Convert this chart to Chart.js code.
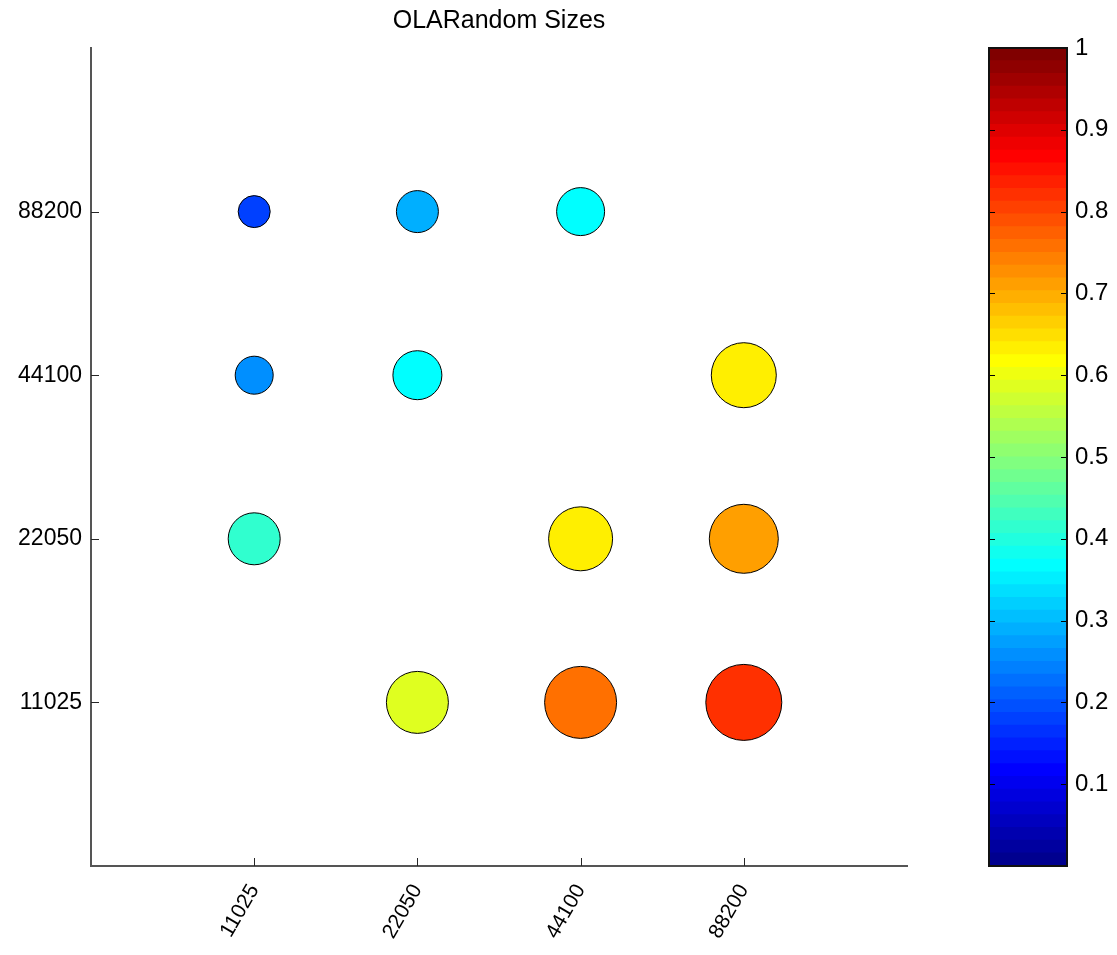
<!DOCTYPE html>
<html>
<head>
<meta charset="utf-8">
<script src="https://cdn.jsdelivr.net/npm/chart.js@4.4.1/dist/chart.umd.min.js"></script>
<style>
  html, body { margin: 0; padding: 0; background: #ffffff; }
  #wrap { position: relative; width: 1117px; height: 955px; overflow: hidden; }
  #main { position: absolute; left: 0; top: 0; }
  #cbar { position: absolute; left: 960px; top: 0; }
</style>
</head>
<body>
<div id="wrap">
  <canvas id="main" width="960" height="955"></canvas>
  <canvas id="cbar" width="157" height="955"></canvas>
</div>
<script>
// Sample-rate categories used on both axes
const sampleRates = ['11025', '22050', '44100', '88200'];

// Each bubble: column (x) and row (y) as 1-based positions in sampleRates
const pointX = [1, 2, 3, 1, 2, 4, 1, 3, 4, 2, 3, 4];
const pointY = [4, 4, 4, 3, 3, 3, 2, 2, 2, 1, 1, 1];
// Colour value (0..1, mapped through the colour bar)
const colourValues = [0.18, 0.29, 0.37, 0.25, 0.37, 0.63, 0.41, 0.63, 0.71, 0.585, 0.755, 0.82];
// Bubble radius in pixels
const bubbleRadii = [16, 21, 24, 19, 24.5, 32.5, 26, 32, 34.5, 31, 36, 38];

// Colour bar tick values
const colourTicks = [0.1, 0.2, 0.3, 0.4, 0.5, 0.6, 0.7, 0.8, 0.9, 1];

const FONT = "'Liberation Sans', Arial, Helvetica, sans-serif";
Chart.defaults.font.family = FONT;
Chart.defaults.color = '#000000';

// 64-level "jet" colour map
function jetMap(n) {
  const m = Math.ceil(n / 4);
  const u = [];
  for (let i = 1; i <= m; i++) u.push(i / m);
  for (let i = 0; i < m - 1; i++) u.push(1);
  for (let i = m; i >= 1; i--) u.push(i / m);
  const g0 = Math.ceil(m / 2) - (n % 4 === 1 ? 1 : 0);
  const rows = Array.from({ length: n }, () => [0, 0, 0]);
  u.forEach((val, i) => {
    const g = g0 + i + 1;
    const r = g + m, b = g - m;
    if (r >= 1 && r <= n) rows[r - 1][0] = val;
    if (g >= 1 && g <= n) rows[g - 1][1] = val;
    if (b >= 1 && b <= n) rows[b - 1][2] = val;
  });
  return rows.map(c => `rgb(${Math.round(c[0] * 255)},${Math.round(c[1] * 255)},${Math.round(c[2] * 255)})`);
}
const LEVELS = 64;
const jet = jetMap(LEVELS);
const colourFor = v => jet[Math.min(LEVELS - 1, Math.max(0, Math.floor(v * LEVELS)))];

// Short tick marks pointing into the plot area
const inwardTicks = {
  id: 'inwardTicks',
  afterDatasetsDraw(chart) {
    const { ctx, chartArea: a, scales: { x, y } } = chart;
    ctx.save();
    ctx.strokeStyle = '#262626';
    ctx.lineWidth = 1;
    x.ticks.forEach(t => {
      const px = Math.round(x.getPixelForValue(t.value)) + 0.5;
      ctx.beginPath(); ctx.moveTo(px, a.bottom); ctx.lineTo(px, a.bottom - 8); ctx.stroke();
    });
    y.ticks.forEach(t => {
      const py = Math.round(y.getPixelForValue(t.value)) + 0.5;
      ctx.beginPath(); ctx.moveTo(a.left, py); ctx.lineTo(a.left + 8, py); ctx.stroke();
    });
    ctx.restore();
  }
};

const categoryTicks = s => { s.ticks = sampleRates.map((_, i) => ({ value: i + 1 })); };
const categoryLabel = v => sampleRates[v - 1] ?? '';

new Chart(document.getElementById('main'), {
  type: 'bubble',
  data: {
    datasets: [{
      data: pointX.map((xv, i) => ({ x: xv, y: pointY[i], r: bubbleRadii[i] })),
      backgroundColor: colourValues.map(colourFor),
      borderColor: '#000000',
      borderWidth: 1
    }]
  },
  options: {
    responsive: false,
    animation: false,
    layout: { padding: { left: 0, right: 53, top: 0, bottom: 0 } },
    plugins: {
      legend: { display: false },
      tooltip: { enabled: false },
      title: {
        display: true,
        fullSize: false,
        text: 'OLARandom Sizes',
        color: '#000000',
        font: { size: 25, weight: 'normal', family: FONT },
        padding: { top: 6, bottom: 12 }
      }
    },
    scales: {
      x: {
        type: 'linear',
        min: 0, max: 5,
        afterBuildTicks: categoryTicks,
        afterFit: s => { s.height = 89; },
        grid: { display: true, drawOnChartArea: false, drawTicks: false },
        border: { display: true, color: '#555555', width: 2 },
        ticks: {
          callback: categoryLabel,
          minRotation: 60, maxRotation: 60,
          padding: 14,
          color: '#000000',
          font: { size: 21, family: FONT }
        }
      },
      y: {
        type: 'linear',
        min: 0, max: 5,
        afterBuildTicks: categoryTicks,
        afterFit: s => { s.width = 91; },
        grid: { display: true, drawOnChartArea: false, drawTicks: false },
        border: { display: true, color: '#555555', width: 2 },
        ticks: {
          callback: categoryLabel,
          padding: 9,
          color: '#000000',
          font: { size: 23, family: FONT }
        }
      }
    }
  },
  plugins: [inwardTicks]
});

// Colour bar: outline box and tick marks on both edges
const colourBarFrame = {
  id: 'colourBarFrame',
  afterDatasetsDraw(chart) {
    const { ctx, chartArea: a, scales: { y } } = chart;
    ctx.save();
    ctx.strokeStyle = '#000000';
    ctx.lineWidth = 1;
    y.ticks.forEach(t => {
      if (t.value <= 0 || t.value >= 1) return;
      const py = Math.round(y.getPixelForValue(t.value)) + 0.5;
      ctx.beginPath(); ctx.moveTo(a.left, py); ctx.lineTo(a.left + 6, py); ctx.stroke();
      ctx.beginPath(); ctx.moveTo(a.right, py); ctx.lineTo(a.right - 6, py); ctx.stroke();
    });
    ctx.lineWidth = 2;
    ctx.strokeStyle = '#111111';
    ctx.strokeRect(a.left, a.top, a.right - a.left, a.bottom - a.top);
    ctx.restore();
  }
};

new Chart(document.getElementById('cbar'), {
  type: 'bar',
  data: {
    labels: [''],
    datasets: jet.map(c => ({
      data: [1 / LEVELS],
      backgroundColor: c,
      borderWidth: 0,
      inflateAmount: 0.6,
      barPercentage: 1,
      categoryPercentage: 1
    }))
  },
  options: {
    responsive: false,
    animation: false,
    layout: { padding: { left: 29, right: 0, top: 48, bottom: 89 } },
    plugins: { legend: { display: false }, tooltip: { enabled: false }, title: { display: false } },
    scales: {
      x: { display: false, stacked: true },
      y: {
        stacked: true,
        position: 'right',
        min: 0, max: 1,
        afterBuildTicks: s => { s.ticks = colourTicks.map(v => ({ value: v })); },
        afterFit: s => { s.width = 50; },
        grid: { display: true, drawOnChartArea: false, drawTicks: false },
        border: { display: false },
        ticks: {
          callback: v => String(Math.round(v * 10) / 10),
          padding: 8,
          color: '#000000',
          font: { size: 24, family: FONT }
        }
      }
    }
  },
  plugins: [colourBarFrame]
});
</script>
</body>
</html>
